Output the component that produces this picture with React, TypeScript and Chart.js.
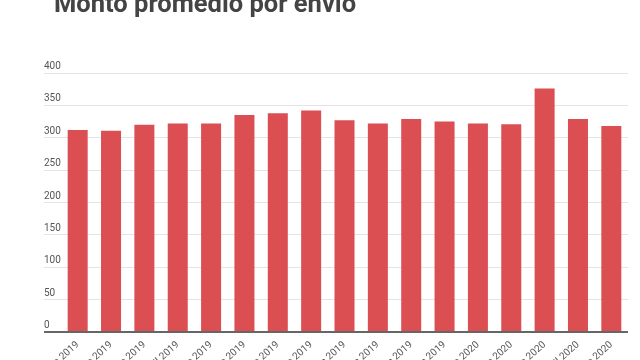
import React, { useEffect, useRef } from "react";
import { Chart, registerables } from "chart.js";

Chart.register(...registerables);

const TITLE = "Monto promedio por envío";
const MONTHS = [
  "Enero 2019", "Febrero 2019", "Marzo 2019", "Abril 2019", "Mayo 2019",
  "Junio 2019", "Julio 2019", "Agosto 2019", "Septiembre 2019", "Octubre 2019",
  "Noviembre 2019", "Diciembre 2019", "Enero 2020", "Febrero 2020", "Marzo 2020",
  "Abril 2020", "Mayo 2020",
];
const MONTO = [312, 311, 320, 322, 322, 335, 338, 342, 327, 322, 329, 325, 322, 321, 376, 329, 318];
const Y_MIN = 0;
const Y_MAX = 400;
const Y_STEP = 50;

const titlePlugin = {
  id: "leftTitle",
  afterDraw(chart: any) {
    const ctx = chart.ctx;
    ctx.save();
    ctx.font = "bold 25.5px Roboto";
    ctx.fillStyle = "#444444";
    ctx.textAlign = "left";
    ctx.textBaseline = "alphabetic";
    ctx.fillText(TITLE, 54, 12);
    ctx.restore();
  },
};

export default function App() {
  const ref = useRef<HTMLCanvasElement>(null);
  useEffect(() => {
    if (!ref.current) return;
    const chart = new Chart(ref.current, {
      type: "bar",
      data: {
        labels: MONTHS,
        datasets: [
          {
            label: "Monto",
            data: MONTO,
            backgroundColor: "#db4f53",
            borderWidth: 0,
            categoryPercentage: 1,
            barPercentage: 0.6,
          },
        ],
      },
      options: {
        animation: false,
        responsive: true,
        maintainAspectRatio: false,
        layout: { padding: { left: 44, right: 12, top: 73, bottom: 0 } },
        plugins: {
          legend: { display: false },
          title: { display: false },
          tooltip: { enabled: false },
        },
        scales: {
          x: {
            grid: { display: false },
            border: { display: false },
            ticks: {
              autoSkip: false,
              minRotation: 42,
              maxRotation: 42,
              padding: -1,
              color: "#555555",
              font: { family: "Roboto", size: 10 },
            },
            afterFit: (s: any) => {
              s.height = 88;
              s.paddingLeft = 0;
              s.paddingRight = 0;
            },
          },
          y: {
            min: Y_MIN,
            max: Y_MAX,
            border: { display: false },
            grid: {
              color: (c: any) => (c.tick && c.tick.value === 0 ? "#666666" : "#e4e4e4"),
              lineWidth: (c: any) => (c.tick && c.tick.value === 0 ? 2 : 1),
              drawTicks: true,
              tickLength: 17,
            },
            ticks: {
              stepSize: Y_STEP,
              crossAlign: "far",
              labelOffset: -6.5,
              padding: 0,
              color: "#555555",
              font: { family: "Roboto", size: 10 },
            },
            afterFit: (s: any) => {
              s.width = 17;
              s.paddingTop = 0;
              s.paddingBottom = 0;
            },
          },
        },
      },
      plugins: [titlePlugin],
    });
    return () => chart.destroy();
  }, []);
  return (
    <div style={{ position: "fixed", left: 0, top: 0, width: 640, height: 420, background: "#ffffff" }}>
      <canvas ref={ref} />
    </div>
  );
}
